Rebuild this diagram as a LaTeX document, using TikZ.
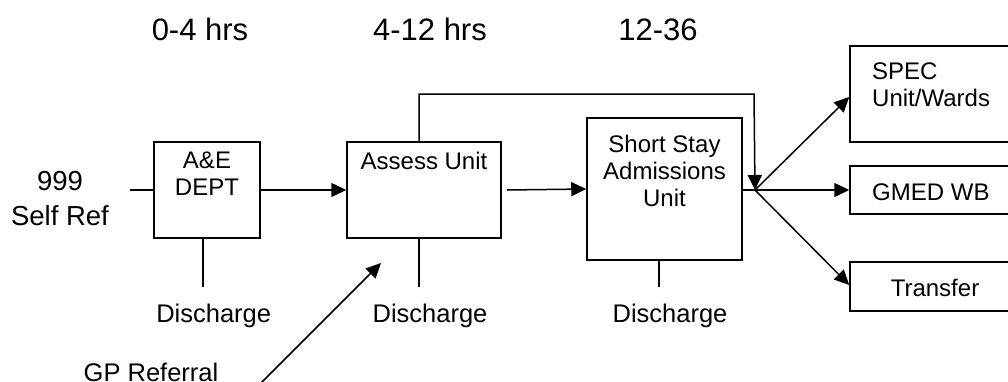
\documentclass[tikz,border=0pt]{standalone}
\usepackage{fontspec}
\setmainfont{Liberation Sans}
\usetikzlibrary{arrows.meta}

\tikzset{
  unit/.style={draw, line width=1.5pt, inner sep=0pt},
  boxtext/.style={font=\fontsize{24}{27}\selectfont, align=center, inner sep=0pt},
  hdr/.style={font=\fontsize{31}{34}\selectfont, inner sep=0pt, anchor=base},
  side/.style={font=\fontsize{27.5}{31}\selectfont, inner sep=0pt, anchor=base},
  dtext/.style={font=\fontsize{25.5}{29}\selectfont, inner sep=0pt, anchor=base},
  flow/.style={line width=1.5pt, -{Triangle[length=15pt,width=14pt]}},
  plain/.style={line width=1.5pt}
}

\begin{document}
\begin{tikzpicture}[x=1pt,y=-1pt]
  \useasboundingbox (0,0) rectangle (1008,381);
  \clip (0,0) rectangle (1008,381);

  %time bands
  \node[hdr] (t1) at (200,40) {0-4 hrs};
  \node[hdr] (t2) at (430,40) {4-12 hrs};
  \node[hdr] (t3) at (658,40) {12-36};

  %way in
  \node[side] (n999) at (60,190) {999};
  \node[side] (self) at (60,225) {Self Ref};
  \node[dtext] (gp) at (151,381) {GP Referral};

  %units
  \node[unit, minimum width=106pt, minimum height=96pt] (ae) at (207,190) {};
  \node[boxtext] (aetxt) at (207,173.5) {A\&E\\DEPT};
  \node[unit, minimum width=154pt, minimum height=96pt] (assess) at (424,190) {};
  \node[boxtext, anchor=base] (assesstxt) at (424,169) {Assess Unit};
  \node[unit, minimum width=155pt, minimum height=142pt] (ss) at (664.5,189) {};
  \node[boxtext] (sstxt) at (664.5,170.5) {Short Stay\\Admissions\\Unit};

  %where they go
  \node[unit, minimum width=170pt, minimum height=96pt] (spec) at (935,94) {};
  \node[boxtext, align=left, anchor=west] (spectxt) at (872,85) {SPEC\\Unit/Wards};
  \node[unit, minimum width=170pt, minimum height=48pt] (gmed) at (935,190) {};
  \node[boxtext, anchor=base west] (gmedtxt) at (872,200) {GMED WB};
  \node[unit, minimum width=170pt, minimum height=49pt] (trans) at (935,286.5) {};
  \node[boxtext, anchor=base] (transtxt) at (935,296) {Transfer};

  %discharges
  \node[dtext] (d1) at (213.7,322) {Discharge};
  \node[dtext] (d2) at (430,322) {Discharge};
  \node[dtext] (d3) at (670,322) {Discharge};

  \coordinate (in) at (130,190);
  \coordinate (j) at (755,190);
  \coordinate (gpstart) at (254,390);
  \coordinate (gpend) at (381,263);
  \coordinate (c1) at (203,287);
  \coordinate (c2) at (419,287);
  \coordinate (c3) at (659,287);

  \draw[plain] (in) -- (ae.west);
  \draw[flow] (ae.east) -- (assess.west);
  \draw[flow] ([xshift=5pt]assess.east) -- (ss.west);
  \draw[plain] (ss.east |- j) -- (j);

  %by-pass over the short stay unit
  \draw[flow] (c2 |- assess.north) -- (419,94) -- (754,94) -- (j);

  \draw[flow] (j) -- (spec.west |- 0,97);
  \draw[flow] (j) -- (gmed.west);
  \draw[flow] (j) -- (trans.west |- 0,285);

  \draw[flow] (gpstart) -- (gpend);

  \draw[plain] (c1 |- ae.south) -- (c1);
  \draw[plain] (c2 |- assess.south) -- (c2);
  \draw[plain] (c3 |- ss.south) -- (c3);

\end{tikzpicture}
\end{document}
